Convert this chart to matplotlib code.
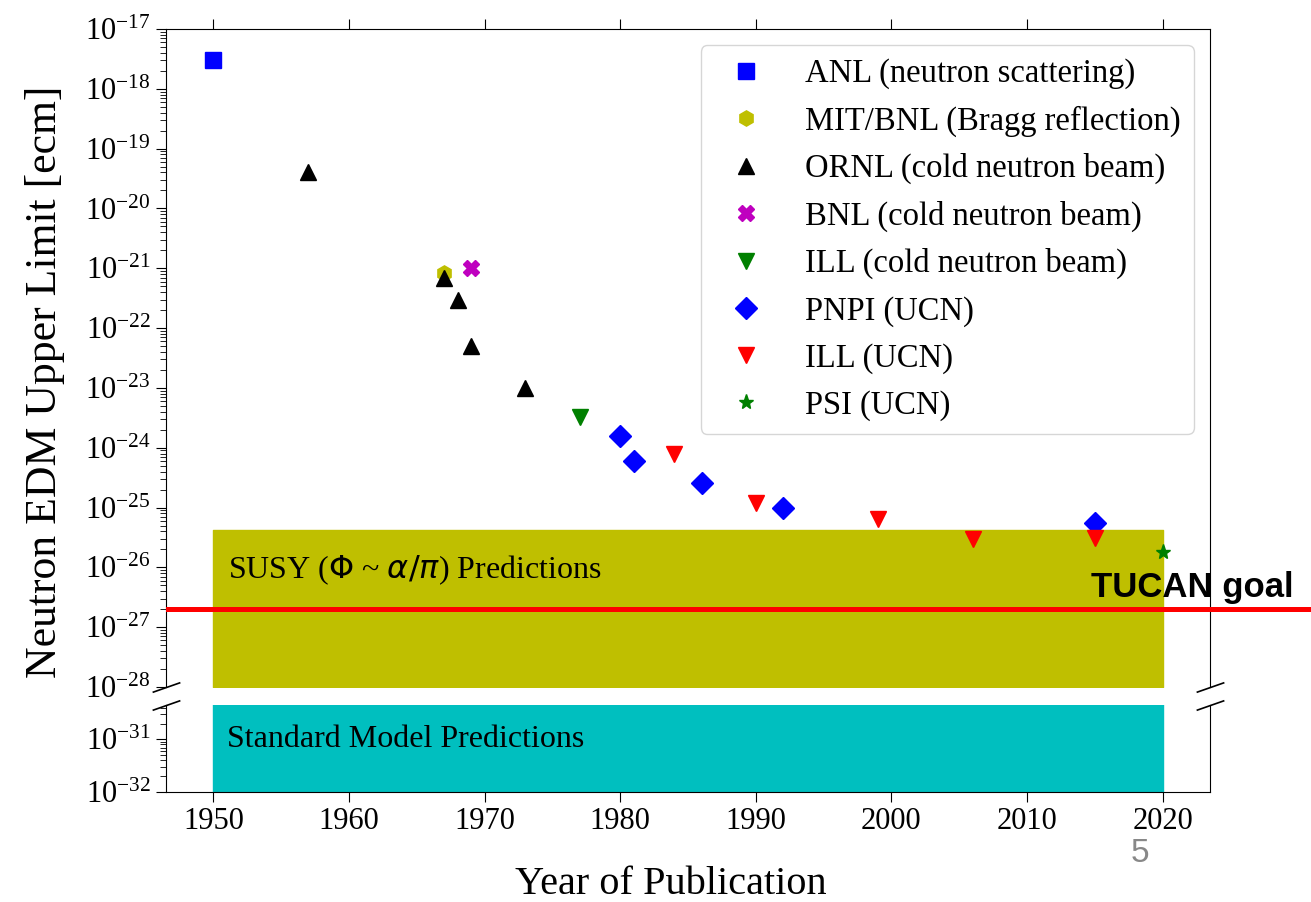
import matplotlib
matplotlib.use("Agg")
import matplotlib.pyplot as plt
import matplotlib.ticker as mticker
import numpy as np

plt.rcParams['font.family'] = ['Liberation Serif', 'DejaVu Serif']
plt.rcParams['mathtext.fontset'] = 'custom'
plt.rcParams['mathtext.rm'] = 'Liberation Serif'
plt.rcParams['mathtext.it'] = 'Liberation Serif:italic'

# dati (anno, limite superiore EDM in e cm)
anl_year = [1950]
anl_edm = [3e-18]
mit_year = [1967]
mit_edm = [8.5e-22]
ornl_year = [1957, 1967, 1968, 1969, 1973]
ornl_edm = [4e-20, 7e-22, 3e-22, 5e-23, 1e-23]
bnl_year = [1969]
bnl_edm = [1e-21]
illc_year = [1977]
illc_edm = [3.3e-24]
pnpi_year = [1980, 1981, 1986, 1992, 2015]
pnpi_edm = [1.6e-24, 6e-25, 2.6e-25, 1.0e-25, 5.6e-26]
illu_year = [1984, 1990, 1999, 2006, 2015]
illu_edm = [8e-25, 1.2e-25, 6.4e-26, 3.0e-26, 3.1e-26]
psi_year = [2020]
psi_edm = [1.8e-26]

susy_range = (1e-28, 4.2e-26)
sm_range = (1e-32, 1e-30)
box_years = (1950, 2020)
tucan_goal = 2e-27

fig = plt.figure(figsize=(13.11, 9.02), dpi=100)
ax1 = fig.add_axes([0.1266, 0.2384, 0.7964, 0.7294])
ax2 = fig.add_axes([0.1266, 0.1220, 0.7964, 0.0964], sharex=ax1)

ms = 11
ax1.plot(anl_year, anl_edm, 's', color='b', ms=ms, ls='none', label="ANL (neutron scattering)")
ax1.plot(mit_year, mit_edm, 'h', color='y', ms=ms, ls='none', label="MIT/BNL (Bragg reflection)")
ax1.plot(ornl_year, ornl_edm, '^', color='k', ms=ms, ls='none', label="ORNL (cold neutron beam)")
ax1.plot(bnl_year, bnl_edm, 'X', color='m', ms=ms, ls='none', label="BNL (cold neutron beam)")
ax1.plot(illc_year, illc_edm, 'v', color='g', ms=ms, ls='none', label="ILL (cold neutron beam)")
ax1.plot(pnpi_year, pnpi_edm, 'D', color='b', ms=ms, ls='none', label="PNPI (UCN)")
ax1.plot(illu_year, illu_edm, 'v', color='r', ms=ms, ls='none', label="ILL (UCN)")
ax1.plot(psi_year, psi_edm, '*', color='g', ms=ms, ls='none', label="PSI (UCN)")

# bande delle predizioni
ax1.fill_between(box_years, susy_range[0], susy_range[1], color='y', zorder=0)
ax2.fill_between(box_years, sm_range[0], sm_range[1], color='c', zorder=0)
ax1.text(1951.1, 9e-27, r"SUSY ($\Phi$ ~ $\alpha/\pi$) Predictions", fontsize=23,
         va='center', math_fontfamily='dejavusans')
ax2.text(1951.0, 1e-31, "Standard Model Predictions", fontsize=23, va='center')

for ax in (ax1, ax2):
    ax.set_yscale('log')
    ax.yaxis.set_major_locator(mticker.LogLocator(base=10, numticks=30))
    ax.yaxis.set_minor_locator(mticker.LogLocator(base=10, subs=np.arange(2, 10), numticks=30))
    ax.yaxis.set_minor_formatter(mticker.NullFormatter())
    ax.tick_params(which='major', labelsize=22, length=7, pad=4)
    ax.tick_params(which='minor', length=4)

ax1.set_ylim(1e-28, 1e-17)
ax2.set_ylim(1e-32, 4.5e-31)
ax1.set_xlim(1946.5, 2023.5)
ax2.set_xticks(np.arange(1950, 2021, 10))

# asse spezzato
ax1.spines['bottom'].set_visible(False)
ax2.spines['top'].set_visible(False)
ax1.xaxis.tick_top()
ax1.tick_params(labeltop=False)
ax2.xaxis.tick_bottom()

d = 0.35
kw = dict(marker=[(-1, -d), (1, d)], markersize=20, linestyle='none', color='k',
          mec='k', mew=1.2, clip_on=False)
ax1.plot([0, 1], [0, 0], transform=ax1.transAxes, **kw)
ax2.plot([0, 1], [1, 1], transform=ax2.transAxes, **kw)

# obiettivo TUCAN
ax1.plot([0.002, 1.097], [tucan_goal, tucan_goal], color='r', lw=3.6, clip_on=False,
         transform=ax1.get_yaxis_transform(), zorder=5)
ax1.text(1.0805, 3.2e-27, "TUCAN goal", transform=ax1.get_yaxis_transform(),
         ha='right', va='baseline', fontsize=25, fontweight='bold',
         family=['Liberation Sans', 'DejaVu Sans'], clip_on=False)

ax1.legend(loc='upper right', fontsize=23.5, labelspacing=0.5, handletextpad=0.8)

fig.text(45 / 1311, 1 - 382 / 902, "Neutron EDM Upper Limit [ecm]", rotation=90,
         ha='center', va='center', fontsize=31.5)
fig.text(671 / 1311, 1 - 885 / 902, "Year of Publication", ha='center', va='center', fontsize=29)
fig.text(1140 / 1311, 1 - 853 / 902, "5", ha='center', va='center', fontsize=24,
         color='#888888', family=['Liberation Sans', 'DejaVu Sans'])

fig.savefig("out.png", dpi=100)
